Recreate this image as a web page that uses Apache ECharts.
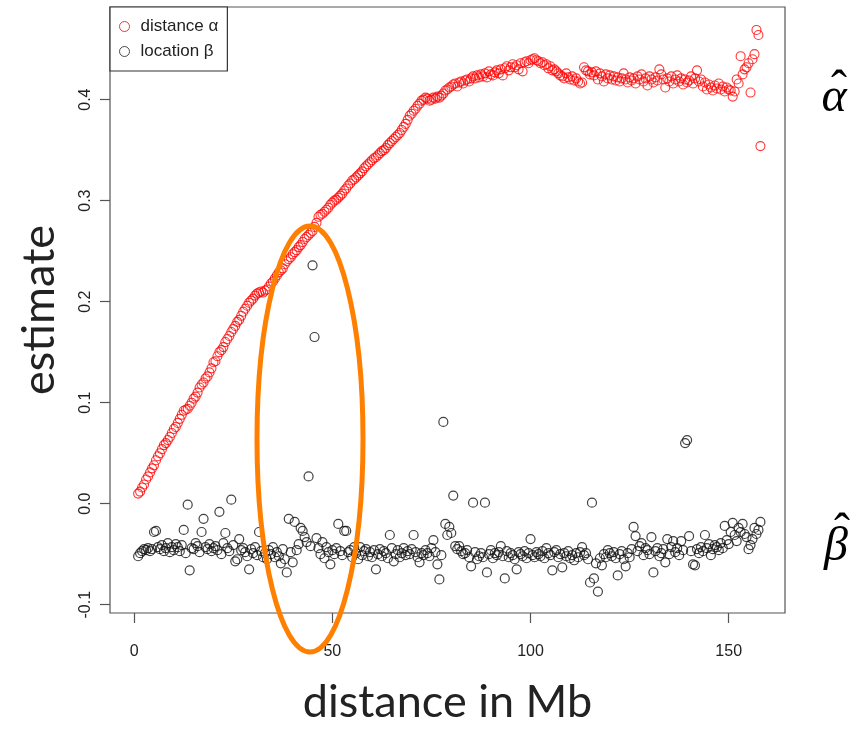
<!DOCTYPE html>
<html>
<head>
<meta charset="utf-8">
<script src="https://cdn.jsdelivr.net/npm/echarts@6/dist/echarts.min.js"></script>
<style>
html,body{margin:0;padding:0;background:#fff;}
#chart{width:865px;height:730px;}
</style>
</head>
<body>
<div id="chart"></div>
<script>
// positions along the chromosome (Mb)
const positionsMb = [
1,1.5,2,2.5,3,3.5,4,4.5,5,5.5,6,6.5,7,7.5,8,8.5,9,9.5,10,10.5,
11,11.5,12,12.5,13,13.5,14,14.5,15,15.5,16,16.5,17,17.5,18,18.5,19,19.5,20,20.5,
21,21.5,22,22.5,23,23.5,24,24.5,25,25.5,26,26.5,27,27.5,28,28.5,29,29.5,30,30.5,
31,31.5,32,32.5,33,33.5,34,34.5,35,35.5,36,36.5,37,37.5,38,38.5,39,39.5,40,40.5,
41,41.5,42,42.5,43,43.5,44,44.5,45,45.5,46,46.5,47,47.5,48,48.5,49,49.5,50,50.5,
51,51.5,52,52.5,53,53.5,54,54.5,55,55.5,56,56.5,57,57.5,58,58.5,59,59.5,60,60.5,
61,61.5,62,62.5,63,63.5,64,64.5,65,65.5,66,66.5,67,67.5,68,68.5,69,69.5,70,70.5,
71,71.5,72,72.5,73,73.5,74,74.5,75,75.5,76,76.5,77,77.5,78,78.5,79,79.5,80,80.5,
81,81.5,82,82.5,83,83.5,84,84.5,85,85.5,86,86.5,87,87.5,88,88.5,89,89.5,90,90.5,
91,91.5,92,92.5,93,93.5,94,94.5,95,95.5,96,96.5,97,97.5,98,98.5,99,99.5,100,100.5,
101,101.5,102,102.5,103,103.5,104,104.5,105,105.5,106,106.5,107,107.5,108,108.5,109,109.5,110,110.5,
111,111.5,112,112.5,113,113.5,114,114.5,115,115.5,116,116.5,117,117.5,118,118.5,119,119.5,120,120.5,
121,121.5,122,122.5,123,123.5,124,124.5,125,125.5,126,126.5,127,127.5,128,128.5,129,129.5,130,130.5,
131,131.5,132,132.5,133,133.5,134,134.5,135,135.5,136,136.5,137,137.5,138,138.5,139,139.5,140,140.5,
141,141.5,142,142.5,143,143.5,144,144.5,145,145.5,146,146.5,147,147.5,148,148.5,149,149.5,150,150.5,
151,151.5,152,152.5,153,153.5,154,154.5,155,155.5,156,156.5,157,157.5,158
];

// distance estimate (alpha)
const distanceAlpha = [
0.010,0.012,0.016,0.019,0.024,0.027,0.031,0.035,0.038,0.043,
0.047,0.050,0.054,0.058,0.060,0.063,0.066,0.070,0.074,0.076,
0.080,0.084,0.088,0.092,0.093,0.094,0.097,0.100,0.104,0.106,
0.110,0.115,0.118,0.120,0.124,0.126,0.130,0.134,0.140,0.141,
0.146,0.150,0.152,0.155,0.160,0.163,0.166,0.170,0.173,0.176,
0.180,0.182,0.186,0.190,0.193,0.196,0.199,0.201,0.203,0.206,
0.208,0.209,0.210,0.209,0.211,0.212,0.215,0.218,0.220,0.223,
0.226,0.229,0.231,0.233,0.237,0.240,0.242,0.244,0.247,0.249,
0.251,0.254,0.256,0.259,0.262,0.264,0.266,0.268,0.270,0.274,
0.278,0.284,0.286,0.287,0.289,0.291,0.293,0.296,0.298,0.300,
0.301,0.303,0.305,0.307,0.310,0.312,0.315,0.317,0.320,0.321,
0.323,0.325,0.327,0.329,0.332,0.334,0.336,0.338,0.340,0.342,
0.343,0.345,0.347,0.349,0.350,0.352,0.355,0.357,0.359,0.361,
0.363,0.365,0.367,0.370,0.373,0.376,0.380,0.384,0.386,0.389,
0.391,0.394,0.396,0.399,0.400,0.402,0.401,0.399,0.400,0.402,
0.401,0.403,0.402,0.404,0.406,0.409,0.410,0.412,0.413,0.415,
0.416,0.413,0.417,0.418,0.416,0.419,0.420,0.418,0.421,0.423,
0.421,0.424,0.422,0.425,0.423,0.426,0.422,0.428,0.425,0.424,
0.427,0.429,0.426,0.430,0.424,0.431,0.433,0.429,0.432,0.435,
0.432,0.434,0.430,0.436,0.428,0.437,0.438,0.436,0.439,0.440,
0.441,0.439,0.438,0.436,0.437,0.434,0.435,0.431,0.433,0.429,
0.430,0.428,0.426,0.424,0.423,0.421,0.426,0.422,0.420,0.423,
0.419,0.421,0.418,0.416,0.417,0.432,0.429,0.428,0.425,0.427,
0.424,0.428,0.420,0.426,0.423,0.418,0.425,0.421,0.424,0.420,
0.423,0.419,0.422,0.418,0.421,0.426,0.420,0.417,0.422,0.419,
0.421,0.416,0.423,0.420,0.425,0.418,0.421,0.414,0.423,0.420,
0.417,0.422,0.419,0.430,0.425,0.420,0.412,0.421,0.418,0.423,
0.416,0.420,0.424,0.418,0.421,0.415,0.420,0.417,0.419,0.423,
0.416,0.421,0.429,0.418,0.420,0.413,0.417,0.410,0.415,0.412,
0.409,0.414,0.411,0.416,0.410,0.413,0.408,0.412,0.410,0.409,
0.403,0.408,0.420,0.416,0.443,0.425,0.430,0.432,0.436,0.407,
0.440,0.445,0.469,0.464,0.354
];

// location estimate (beta)
const locationBeta = [
-0.052,-0.049,-0.047,-0.045,-0.046,-0.044,-0.047,-0.045,-0.028,-0.027,
-0.043,-0.045,-0.041,-0.047,-0.044,-0.039,-0.048,-0.043,-0.046,-0.040,
-0.043,-0.047,-0.041,-0.026,-0.049,-0.001,-0.066,-0.044,-0.045,-0.039,
-0.042,-0.048,-0.028,-0.015,-0.043,-0.045,-0.040,-0.047,-0.044,-0.042,
-0.046,-0.008,-0.050,-0.039,-0.029,-0.044,-0.047,0.004,-0.041,-0.057,
-0.055,-0.035,-0.046,-0.044,-0.048,-0.052,-0.065,-0.045,-0.049,-0.043,
-0.051,-0.028,-0.047,-0.053,-0.049,-0.055,-0.046,-0.050,-0.043,-0.053,
-0.048,-0.052,-0.059,-0.045,-0.055,-0.068,-0.015,-0.048,-0.058,-0.018,
-0.046,-0.040,-0.024,-0.027,-0.033,-0.038,0.027,-0.042,0.236,0.165,
-0.034,-0.044,-0.050,-0.038,-0.054,-0.043,-0.048,-0.060,-0.046,-0.050,
-0.044,-0.020,-0.047,-0.051,-0.027,-0.027,-0.048,-0.046,-0.053,-0.043,
-0.049,-0.055,-0.043,-0.051,-0.047,-0.045,-0.052,-0.048,-0.053,-0.046,
-0.065,-0.050,-0.045,-0.052,-0.047,-0.049,-0.054,-0.031,-0.044,-0.057,
-0.050,-0.046,-0.053,-0.049,-0.044,-0.051,-0.047,-0.050,-0.045,-0.031,
-0.048,-0.053,-0.058,-0.049,-0.051,-0.046,-0.049,-0.052,-0.044,-0.036,
-0.048,-0.060,-0.075,-0.051,0.081,-0.020,-0.031,-0.023,-0.029,0.008,
-0.042,-0.045,-0.042,-0.047,-0.050,-0.049,-0.046,-0.053,-0.062,0.001,
-0.048,-0.055,-0.052,-0.049,-0.053,0.001,-0.068,-0.050,-0.046,-0.054,
-0.049,-0.051,-0.048,-0.042,-0.052,-0.074,-0.047,-0.053,-0.049,-0.051,
-0.055,-0.065,-0.048,-0.050,-0.052,-0.047,-0.054,-0.049,-0.035,-0.051,
-0.053,-0.048,-0.050,-0.052,-0.047,-0.054,-0.044,-0.049,-0.051,-0.066,
-0.048,-0.046,-0.053,-0.050,-0.063,-0.049,-0.052,-0.047,-0.054,-0.051,
-0.056,-0.049,-0.053,-0.048,-0.043,-0.051,-0.049,-0.055,-0.078,0.001,
-0.074,-0.059,-0.087,-0.054,-0.061,-0.050,-0.053,-0.046,-0.049,-0.052,
-0.048,-0.054,-0.071,-0.050,-0.047,-0.055,-0.062,-0.049,-0.053,-0.045,
-0.023,-0.032,-0.047,-0.042,-0.039,-0.051,-0.044,-0.046,-0.050,-0.033,
-0.068,-0.047,-0.044,-0.052,-0.049,-0.045,-0.058,-0.035,-0.050,-0.043,
-0.037,-0.048,-0.044,-0.051,-0.037,-0.046,0.060,0.063,-0.032,-0.047,
-0.060,-0.061,-0.045,-0.049,-0.043,-0.047,-0.031,-0.044,-0.040,-0.051,
-0.045,-0.041,-0.043,-0.046,-0.039,-0.044,-0.022,-0.036,-0.040,-0.028,
-0.019,-0.031,-0.037,-0.024,-0.028,-0.020,-0.030,-0.033,-0.045,-0.041,
-0.035,-0.024,-0.030,-0.026,-0.018
];

const xTicks = [0, 50, 100, 150];
const yTicks = [-0.1, 0, 0.1, 0.2, 0.3, 0.4];
const seriesNames = ['distance \u03b1', 'location \u03b2'];
const xTitle = 'distance in Mb';
const yTitle = 'estimate';
const sideLetters = ['\u03b1', '\u03b2'];
const hatMark = '\u02c6';

const alphaPts = positionsMb.map((x, i) => [x, distanceAlpha[i]]);
const betaPts = positionsMb.map((x, i) => [x, locationBeta[i]]);

const chart = echarts.init(document.getElementById('chart'), null, {renderer: 'canvas'});
const tickFont = {fontFamily: '"Liberation Sans", Arial, sans-serif', fontSize: 16, color: '#222'};
const serifFont = 'italic 48px "Liberation Serif", "DejaVu Serif", serif';
const hatFont = '48px "Liberation Serif", "DejaVu Serif", serif';

const option = {
  backgroundColor: '#fff',
  animation: false,
  grid: {left: 110, right: 80, top: 7, bottom: 109, show: true, borderColor: '#555', borderWidth: 1.2, backgroundColor: 'transparent'},
  legend: {
    left: 110, top: 7, orient: 'vertical',
    backgroundColor: '#fff',
    borderColor: '#333', borderWidth: 1.2, borderRadius: 0,
    padding: [11, 9, 11, 9],
    itemGap: 8, itemWidth: 10, itemHeight: 10,
    textStyle: {fontFamily: '"Liberation Sans", Arial, sans-serif', fontSize: 17, color: '#222', padding: [0, 0, 0, 6]},
    data: [
      {name: seriesNames[0], icon: 'circle', itemStyle: {color: 'transparent', borderColor: '#ff0000', borderWidth: 1}},
      {name: seriesNames[1], icon: 'circle', itemStyle: {color: 'transparent', borderColor: '#222', borderWidth: 1}}
    ]
  },
  xAxis: {
    type: 'value', min: -6.1, max: 164.2,
    name: xTitle, nameLocation: 'middle', nameGap: 67,
    nameTextStyle: {fontFamily: 'Lato, "Open Sans", sans-serif', fontSize: 45, color: '#222'},
    axisLine: {show: false, onZero: false},
    axisTick: {show: true, inside: false, customValues: xTicks, length: 10, lineStyle: {color: '#555', width: 1.2}},
    axisLabel: Object.assign({customValues: xTicks, margin: 31, formatter: v => String(v)}, tickFont),
    splitLine: {show: false}
  },
  yAxis: {
    type: 'value', min: -0.1082, max: 0.4917,
    name: yTitle, nameLocation: 'middle', nameGap: 48,
    nameTextStyle: {fontFamily: 'Lato, "Open Sans", sans-serif', fontSize: 45, color: '#222'},
    axisLine: {show: false, onZero: false},
    axisTick: {show: true, inside: false, customValues: yTicks, length: 10, lineStyle: {color: '#555', width: 1.2}},
    axisLabel: Object.assign({customValues: yTicks, margin: 16, rotate: 90, formatter: v => v.toFixed(1)}, tickFont),
    splitLine: {show: false}
  },
  series: [
    {
      name: seriesNames[0], type: 'scatter', data: alphaPts,
      symbol: 'circle', symbolSize: 9,
      itemStyle: {color: 'transparent', borderColor: '#ff0000', borderWidth: 1.1},
      emphasis: {disabled: true}, z: 2
    },
    {
      name: seriesNames[1], type: 'scatter', data: betaPts,
      symbol: 'circle', symbolSize: 9,
      itemStyle: {color: 'transparent', borderColor: '#111', borderWidth: 1.2},
      emphasis: {disabled: true}, z: 2
    }
  ],
  graphic: [
    {type: 'ellipse', z: 100, shape: {cx: 310, cy: 439, rx: 53, ry: 213}, style: {fill: 'none', stroke: '#ff8000', lineWidth: 5}},
    {type: 'text', z: 100, x: 834, y: 98, style: {text: sideLetters[0], font: serifFont, fill: '#000', align: 'center', verticalAlign: 'middle'}},
    {type: 'text', z: 100, x: 839, y: 91, style: {text: hatMark, font: hatFont, fill: '#000', align: 'center', verticalAlign: 'middle'}},
    {type: 'text', z: 100, x: 836, y: 547, style: {text: sideLetters[1], font: serifFont, fill: '#000', align: 'center', verticalAlign: 'middle'}},
    {type: 'text', z: 100, x: 842, y: 534, style: {text: hatMark, font: hatFont, fill: '#000', align: 'center', verticalAlign: 'middle'}}
  ]
};
chart.setOption(option);
</script>
</body>
</html>
